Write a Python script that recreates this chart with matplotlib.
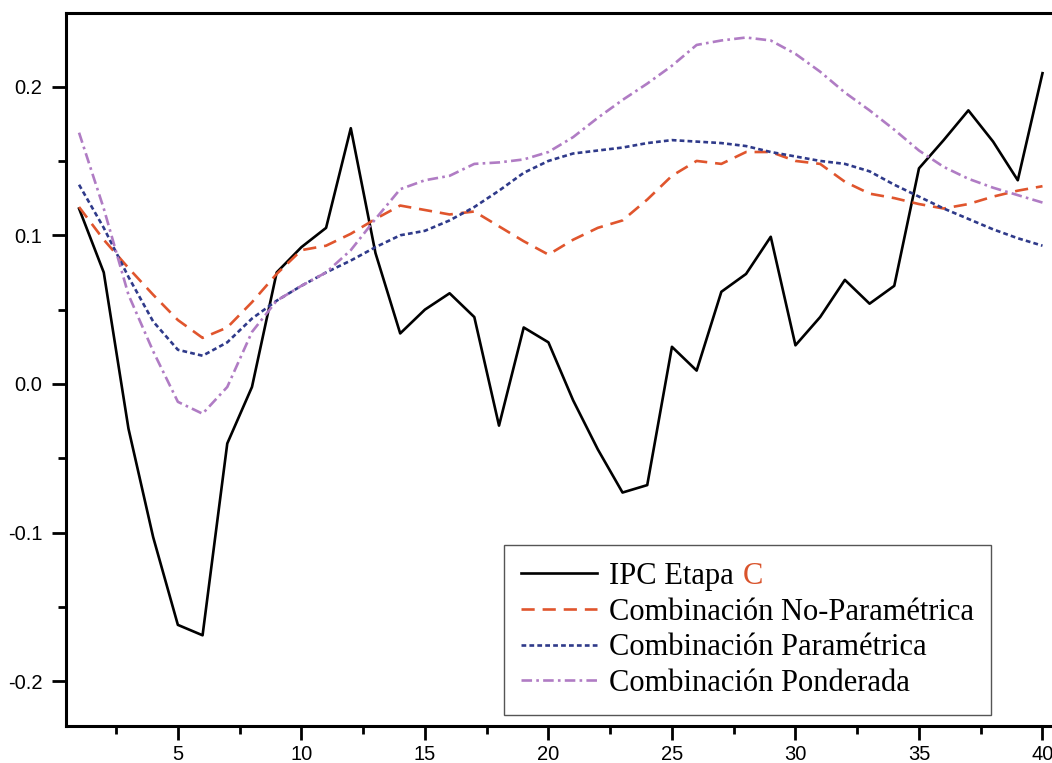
import numpy as np
import matplotlib
matplotlib.use('Agg')
import matplotlib.pyplot as plt
from matplotlib.ticker import MultipleLocator

#%% SERIES

periodo = np.arange(1, 41)

ipc_etapa_c = [0.118, 0.075, -0.030, -0.103, -0.162, -0.169, -0.040, -0.002, 0.075, 0.092,
               0.105, 0.172, 0.088, 0.034, 0.050, 0.061, 0.045, -0.028, 0.038, 0.028,
               -0.011, -0.044, -0.073, -0.068, 0.025, 0.009, 0.062, 0.074, 0.099, 0.026,
               0.045, 0.070, 0.054, 0.066, 0.145, 0.164, 0.184, 0.163, 0.137, 0.209]

comb_no_param = [0.119, 0.097, 0.078, 0.060, 0.043, 0.031, 0.038, 0.055, 0.074, 0.090,
                 0.093, 0.101, 0.111, 0.120, 0.117, 0.114, 0.116, 0.106, 0.096, 0.087,
                 0.097, 0.105, 0.110, 0.124, 0.140, 0.150, 0.148, 0.156, 0.156, 0.150,
                 0.148, 0.136, 0.128, 0.125, 0.121, 0.118, 0.121, 0.126, 0.130, 0.133]

comb_param = [0.134, 0.105, 0.072, 0.042, 0.023, 0.019, 0.028, 0.044, 0.056, 0.066,
              0.075, 0.083, 0.092, 0.100, 0.103, 0.110, 0.119, 0.130, 0.142, 0.150,
              0.155, 0.157, 0.159, 0.162, 0.164, 0.163, 0.162, 0.160, 0.156, 0.153,
              0.150, 0.148, 0.143, 0.134, 0.126, 0.118, 0.111, 0.104, 0.098, 0.093]

comb_ponderada = [0.169, 0.118, 0.060, 0.022, -0.012, -0.020, -0.002, 0.035, 0.056, 0.066,
                  0.075, 0.090, 0.111, 0.131, 0.137, 0.140, 0.148, 0.149, 0.151, 0.156,
                  0.166, 0.179, 0.191, 0.202, 0.214, 0.228, 0.231, 0.233, 0.231, 0.222,
                  0.210, 0.196, 0.184, 0.171, 0.157, 0.146, 0.138, 0.132, 0.127, 0.122]

etiquetas = ['IPC Etapa', 'Combinación No-Paramétrica',
             'Combinación Paramétrica', 'Combinación Ponderada']

#%% FIGURE

plt.rcParams['font.family'] = ['Liberation Sans', 'DejaVu Sans']

fig = plt.figure(figsize=(10.52, 7.63), dpi=100)
ax = fig.add_axes([0.0627, 0.0485, 0.940, 0.9345])

lw = 1.9
ax.plot(periodo, ipc_etapa_c, color='black', lw=lw, label=etiquetas[0])
ax.plot(periodo, comb_no_param, color='#e0552d', lw=lw, dashes=(5, 3), label=etiquetas[1])
ax.plot(periodo, comb_param, color='#2f3a8a', lw=lw, dashes=(1.8, 1.2), label=etiquetas[2])
ax.plot(periodo, comb_ponderada, color='#b07cc4', lw=lw, dashes=(4, 1.6, 1, 1.6), label=etiquetas[3])

ax.set_xlim(0.47, 40.5)
ax.set_ylim(-0.23, 0.2495)

ax.xaxis.set_major_locator(MultipleLocator(5))
ax.xaxis.set_minor_locator(MultipleLocator(2.5))
ax.yaxis.set_major_locator(MultipleLocator(0.1))
ax.yaxis.set_minor_locator(MultipleLocator(0.05))
ax.xaxis.set_major_formatter(plt.FuncFormatter(lambda v, p: f'{v:g}'))
ax.yaxis.set_major_formatter(plt.FuncFormatter(lambda v, p: f'{v:.1f}'))

ax.tick_params(which='major', direction='out', length=10, width=2, labelsize=14.5,
               colors='black', pad=4)
ax.tick_params(which='minor', direction='out', length=6, width=2)
ax.tick_params(axis='y', pad=7)

for side in ['left', 'bottom', 'top']:
    ax.spines[side].set_linewidth(2.2)
ax.spines['right'].set_visible(False)

leg = ax.legend(loc='lower left', bbox_to_anchor=(504 / 1052, 1 - 715 / 763),
                bbox_transform=fig.transFigure, prop={'family': 'Liberation Serif', 'size': 22},
                handlelength=2.5, handletextpad=0.4, labelspacing=0.22, borderpad=0.55,
                frameon=True, fancybox=False, framealpha=1, borderaxespad=0)
leg.get_frame().set_edgecolor('#555555')
leg.get_frame().set_linewidth(1.0)

# red "C" right after the first legend label
fig.canvas.draw()
renderer = fig.canvas.get_renderer()
bb = leg.get_texts()[0].get_window_extent(renderer)
space = 9
fig.text((bb.x1 + space) / fig.bbox.width, bb.y0 / fig.bbox.height, 'C',
         color='#d9532b', family='Liberation Serif', fontsize=22, va='bottom', ha='left')

fig.savefig('out.png', dpi=100)
